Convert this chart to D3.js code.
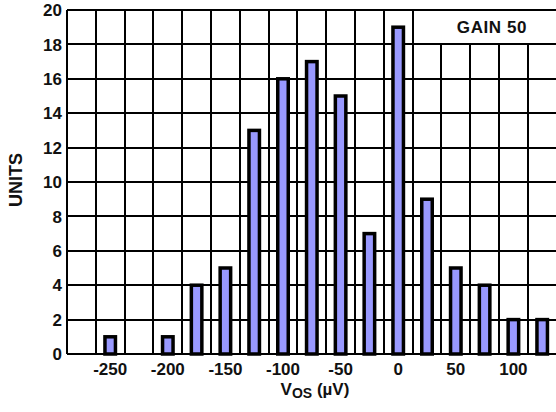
<!DOCTYPE html>
<html>
<head>
<meta charset="utf-8">
<script src="https://cdn.jsdelivr.net/npm/d3@7"></script>
<style>
  body { margin: 0; background: #fff; }
  svg text { font-family: "Liberation Sans", Arial, sans-serif; font-weight: bold; fill: #111; }
</style>
</head>
<body>
<div id="chart"></div>
<script>
// Offset voltage bins (µV) and unit counts
const vosBins = [-250, -225, -200, -175, -150, -125, -100, -75, -50, -25, 0, 25, 50, 75, 100, 125];
const unitCounts = [1, 0, 1, 4, 5, 13, 16, 17, 15, 7, 19, 9, 5, 4, 2, 2];
const xTickLabels = [-250, -200, -150, -100, -50, 0, 50, 100];
const yTickLabels = [0, 2, 4, 6, 8, 10, 12, 14, 16, 18, 20];

const width = 556, height = 412;
const plotLeft = 67, plotRight = 556.6, plotTop = 10, plotBottom = 354;

const svg = d3.select('#chart').append('svg')
    .attr('width', width)
    .attr('height', height);

const x = d3.scaleLinear().domain([-287.5, 137.5]).range([plotLeft, plotRight]);
const y = d3.scaleLinear().domain([0, 20]).range([plotBottom, plotTop]);

// grid
const grid = svg.append('g').attr('stroke', '#000').attr('stroke-width', 2);
grid.selectAll('line.h')
    .data(yTickLabels)
    .join('line')
    .attr('class', 'h')
    .attr('x1', plotLeft).attr('x2', plotRight)
    .attr('y1', d => Math.round(y(d))).attr('y2', d => Math.round(y(d)));
grid.selectAll('line.v')
    .data(d3.range(-287.5, 138, 25))
    .join('line')
    .attr('class', 'v')
    .attr('x1', d => Math.round(x(d))).attr('x2', d => Math.round(x(d)))
    .attr('y1', plotTop).attr('y2', plotBottom);

// GAIN box covers the grid in the top right cell row
svg.append('rect')
    .attr('x', Math.round(x(12.5)) + 1)
    .attr('y', plotTop + 1)
    .attr('width', width - x(12.5))
    .attr('height', Math.round(y(18)) - plotTop - 2)
    .attr('fill', '#fff');
svg.append('text')
    .attr('x', 492)
    .attr('y', 33)
    .attr('text-anchor', 'middle')
    .style('font-size', '17px')
    .style('letter-spacing', '0.6px')
    .text('GAIN 50');

// bars
const barW = 10.5;
svg.append('g').selectAll('rect')
    .data(vosBins.map((v, i) => ({ v, n: unitCounts[i] })).filter(d => d.n > 0))
    .join('rect')
    .attr('x', d => x(d.v) - barW / 2)
    .attr('y', d => y(d.n))
    .attr('width', barW)
    .attr('height', d => y(0) - y(d.n))
    .attr('fill', '#9999ff')
    .attr('stroke', '#000')
    .attr('stroke-width', 3.5);

// y axis labels
svg.append('g').selectAll('text')
    .data(yTickLabels)
    .join('text')
    .attr('x', 62)
    .attr('y', d => y(d))
    .attr('dy', '0.36em')
    .attr('text-anchor', 'end')
    .style('font-size', '17px')
    .text(d => d);

// x axis labels
svg.append('g').selectAll('text')
    .data(xTickLabels)
    .join('text')
    .attr('x', d => x(d))
    .attr('y', 375)
    .attr('text-anchor', 'middle')
    .style('font-size', '17px')
    .text(d => d);

// axis titles
svg.append('text')
    .attr('transform', 'translate(22,180) rotate(-90)')
    .attr('text-anchor', 'middle')
    .style('font-size', '18px')
    .text('UNITS');

const xt = svg.append('text')
    .attr('x', 315)
    .attr('y', 395)
    .attr('text-anchor', 'middle')
    .style('font-size', '17px');
xt.append('tspan').text('V');
xt.append('tspan').attr('dy', 3).style('font-size', '14px').text('OS');
xt.append('tspan').attr('dy', -3).text(' (µV)');
</script>
</body>
</html>
